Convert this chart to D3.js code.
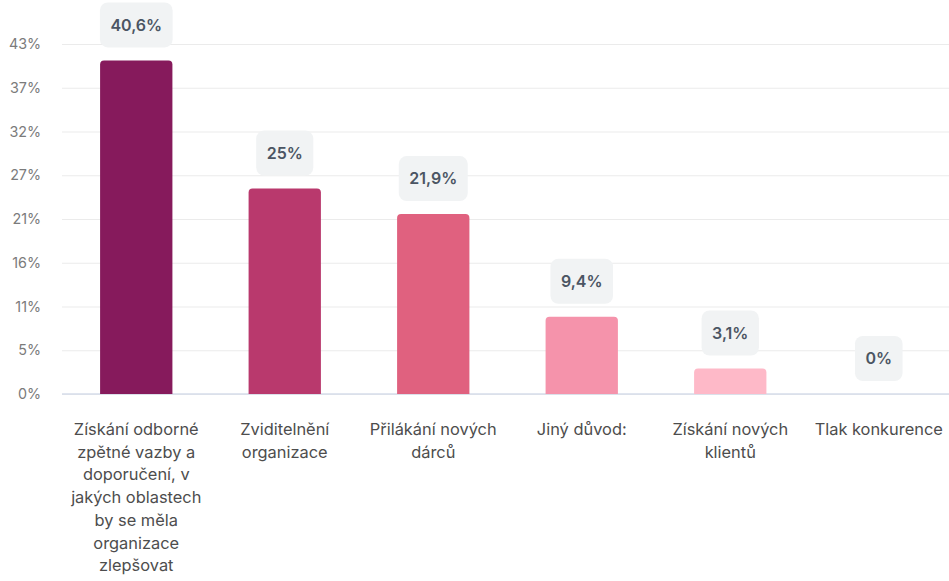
<!DOCTYPE html>
<html><head><meta charset="utf-8">
<script src="https://cdn.jsdelivr.net/npm/d3@7"></script>
<style>html,body{margin:0;padding:0;background:#fff;}svg{display:block;font-family:Inter,"Noto Sans",sans-serif;}</style>
</head><body>
<svg id="c" width="949" height="581"></svg>
<script>
const categories = ["Získání odborné zpětné vazby a doporučení, v jakých oblastech by se měla organizace zlepšovat","Zviditelnění organizace","Přilákání nových dárců","Jiný důvod:","Získání nových klientů","Tlak konkurence"];
const values = [40.6, 25, 21.9, 9.4, 3.1, 0];
const valueLabels = ["40,6%","25%","21,9%","9,4%","3,1%","0%"];
const colors = ["#861a5c","#b9396d","#e0617f","#f593ab","#feb9c8","#feb9c8"];
const tickValues = [0, 5.325, 10.65, 15.975, 21.3, 26.625, 31.95, 37.275, 42.6];
const tickLabels = ["0%","5%","11%","16%","21%","27%","32%","37%","43%"];
const yMax = 42.6;

const svg = d3.select("#c");
const m = {left:62, right:-4, top:44, bottom:187};
const W = 949, H = 581;
const x = d3.scaleBand().domain(categories).range([m.left, W - m.right]).paddingInner(0.513).paddingOuter(0.2565);
const y = d3.scaleLinear().domain([0, yMax]).range([H - m.bottom, m.top]);

// grid
const yAxis = d3.axisLeft(y).tickValues(tickValues).tickSize(-(W - m.left)).tickFormat((d,i)=>tickLabels[i]).tickPadding(21);
const gy = svg.append("g").attr("transform",`translate(${m.left},0)`).call(yAxis);
gy.select(".domain").remove();
gy.selectAll(".tick line").attr("stroke","#ebebeb").attr("stroke-width",1.2);
gy.selectAll(".tick text").attr("fill","#7b7b7b").attr("font-size","14.3px").attr("font-family","Inter");

// baseline
svg.append("line").attr("x1",m.left).attr("x2",W).attr("y1",y(0)).attr("y2",y(0)).attr("stroke","#d6dcea").attr("stroke-width",1.5);

// bars with rounded top
const r = 4;
function barPath(x0, w, yTop, yBot){
  const h = yBot - yTop;
  if (h <= 0) return "";
  const rr = Math.min(r, h, w/2);
  return `M${x0},${yBot}V${yTop+rr}Q${x0},${yTop} ${x0+rr},${yTop}H${x0+w-rr}Q${x0+w},${yTop} ${x0+w},${yTop+rr}V${yBot}Z`;
}
svg.append("g").selectAll("path").data(values).join("path")
  .attr("d",(d,i)=>barPath(x(categories[i]), x.bandwidth(), y(d), y(0)))
  .attr("fill",(d,i)=>colors[i]);

// value labels
const lg = svg.append("g").selectAll("g").data(values).join("g");
lg.each(function(d,i){
  const g = d3.select(this);
  const cx = x(categories[i]) + x.bandwidth()/2;
  const t = g.append("text").text(valueLabels[i]).attr("font-size","16px").attr("font-weight",600)
    .attr("fill","#4b5563").attr("text-anchor","middle").attr("font-family","Inter");
  const tw = t.node().getComputedTextLength();
  const bw = tw + 21, bh = 45;
  const bottom = y(d) - 13;
  g.insert("rect","text").attr("x",cx-bw/2).attr("y",bottom-bh).attr("width",bw).attr("height",bh).attr("rx",8).attr("fill","#f1f3f4");
  t.attr("x",cx).attr("y",bottom-bh/2).attr("dy","0.35em");
});

// x labels with wrap
function wrap(textSel, width){
  textSel.each(function(){
    const text = d3.select(this);
    const words = text.text().split(/\s+/);
    const xx = text.attr("x");
    text.text(null);
    let line = [];
    let tspan = text.append("tspan").attr("x",xx).attr("dy",0);
    for (const w of words){
      line.push(w);
      tspan.text(line.join(" "));
      if (tspan.node().getComputedTextLength() > width && line.length > 1){
        line.pop(); tspan.text(line.join(" "));
        line = [w];
        tspan = text.append("tspan").attr("x",xx).attr("dy","22.7px").text(w);
      }
    }
  });
}
svg.append("g").selectAll("text").data(categories).join("text")
  .attr("x",d=>x(d)+x.bandwidth()/2).attr("y",435)
  .attr("text-anchor","middle").attr("font-size","16.4px").attr("fill","#4d4d4d").attr("font-family","Inter")
  .text(d=>d).call(wrap, 140);
</script>
</body></html>
